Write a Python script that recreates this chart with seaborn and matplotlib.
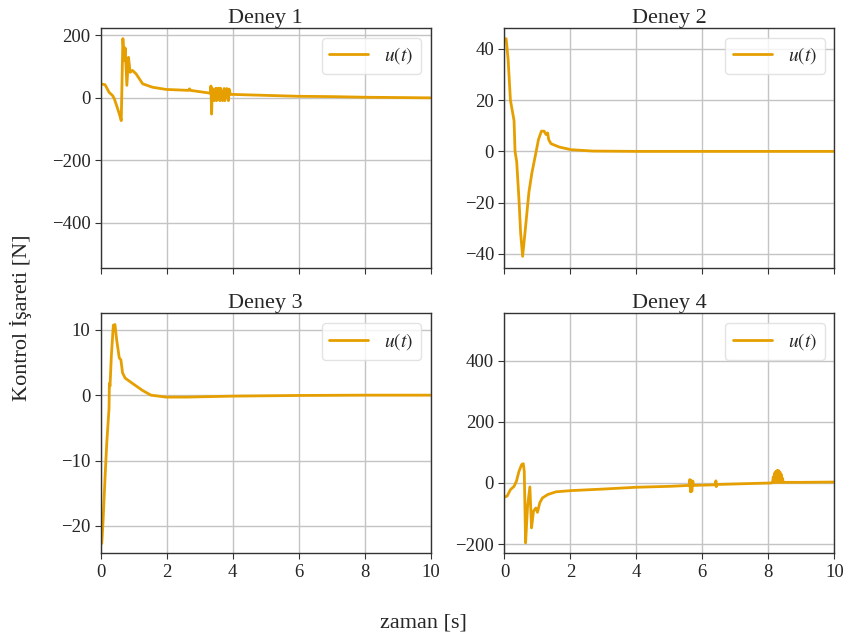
import numpy as np
import pandas as pd
import matplotlib
matplotlib.use("Agg")
import matplotlib.pyplot as plt
import seaborn as sns

# === Data (t in s, u in N)
t1 = [0.0, 0.13, 0.25, 0.36, 0.41, 0.48, 0.56, 0.62, 0.67, 0.71, 0.74, 0.79, 0.84, 0.89, 0.96,
      1.07, 1.27, 1.57, 1.98, 2.66, 2.69, 2.72, 3.32, 3.34, 3.36, 3.38, 3.44, 3.49, 3.51, 3.56,
      3.61, 3.63, 3.69, 3.74, 3.76, 3.82, 3.87, 3.89, 3.93, 4.0, 5.0, 6.0, 7.0, 8.0, 9.0, 10.0]
u1 = [45, 42, 18, 7, -3, -25, -51, -73, 190, 120, 160, 40, 130, 82, 88,
      77, 45, 34, 27, 24, 29, 24, 15, 38, -52, 30, -9, 31, -9, 31,
      -9, 31, -9, 30, -9, 30, -9, 28, 11, 11, 8, 5, 4, 2, 1, 0]

t2 = [0.0, 0.05, 0.11, 0.18, 0.29, 0.32, 0.37, 0.44, 0.49, 0.55, 0.62, 0.74, 0.83, 0.93,
      1.03, 1.12, 1.2, 1.26, 1.31, 1.34, 1.41, 1.66, 2.02, 2.68, 4.0, 6.0, 8.0, 10.0]
u2 = [44, 44, 36, 20, 12, 0, -4, -19, -32, -41, -32, -16, -8.5, -2,
      4.6, 7.9, 7.9, 6.6, 7.2, 4.6, 3.0, 1.7, 0.65, 0.13, 0.0, 0.0, 0.0, 0.0]

t3 = [0.0, 0.03, 0.07, 0.13, 0.18, 0.25, 0.26, 0.28, 0.32, 0.38, 0.43, 0.48, 0.56, 0.61,
      0.66, 0.74, 0.96, 1.27, 1.52, 1.98, 2.59, 4.0, 6.0, 8.0, 10.0]
u3 = [-22.5, -22.7, -19.2, -12.5, -7.4, -2.0, 1.8, 1.4, 6.0, 10.7, 10.8, 8.5, 5.7, 5.4,
      3.4, 2.6, 1.8, 0.7, 0.0, -0.3, -0.3, -0.15, -0.05, 0.0, 0.0]

t4 = [0.0, 0.08, 0.18, 0.29, 0.36, 0.44, 0.52, 0.57, 0.6, 0.64, 0.7, 0.77, 0.82, 0.88,
      0.95, 1.0, 1.07, 1.15, 1.31, 1.56, 2.02, 2.99, 4.01, 5.03, 5.6, 5.62, 5.64, 5.66,
      5.68, 5.71, 5.73, 6.4, 6.41, 6.42, 6.44, 8.1, 8.13, 8.15, 8.17, 8.19, 8.21, 8.23,
      8.25, 8.27, 8.29, 8.31, 8.33, 8.35, 8.37, 8.39, 8.41, 8.43, 8.45, 9.0, 10.0]
u4 = [-46, -43, -22, -11, 5, 38, 60, 63, 38, -196, -76, -13, -147, -92,
      -82, -96, -65, -49, -38, -29, -25, -20, -14, -11, -8, 11, -29, 8, -27,
      6, -8, -6, 7, -12, -5, 0, 2, 20, 2, 32, 2, 38, 2, 41, 2, 40, 2, 36, 2, 28, 2, 15, 2, 2, 3]

experiments = ["Deney 1", "Deney 2", "Deney 3", "Deney 4"]
times = [t1, t2, t3, t4]
signals = [u1, u2, u3, u4]
y_limits = [(-545, 224), (-45.5, 48.2), (-24.2, 12.5), (-230, 554)]
y_ticks = [[-400, -200, 0, 200], [-40, -20, 0, 20, 40], [-20, -10, 0, 10], [-200, 0, 200, 400]]

# === Style
sns.set_style("ticks")
plt.rcParams["font.family"] = ["Liberation Serif", "DejaVu Serif"]
plt.rcParams["mathtext.fontset"] = "stix"
plt.rcParams["axes.unicode_minus"] = True

fig, axes = plt.subplots(2, 2, figsize=(8.47, 6.36), dpi=100, sharex=True)
fig.subplots_adjust(left=0.119, right=0.985, top=0.956, bottom=0.130,
                    hspace=0.19, wspace=0.224)

for ax, naam, t, u, ylim, yt in zip(axes.flat, experiments, times, signals, y_limits, y_ticks):
    df = pd.DataFrame({"t": t, "u": u})
    sns.lineplot(data=df, x="t", y="u", ax=ax, color="#E69F00", linewidth=2,
                 label=r"$u(t)$", sort=False, estimator=None)
    ax.set_xlim(0, 10)
    ax.set_ylim(*ylim)
    ax.set_xticks([0, 2, 4, 6, 8, 10])
    ax.set_yticks(yt)
    ax.set_title(naam, fontsize=16, pad=2)
    ax.set_xlabel("")
    ax.set_ylabel("")
    ax.grid(True, color="#c4c4c4", linewidth=1.0)
    ax.tick_params(labelsize=13.5, direction="out", length=4, width=0.8, color="#333333")
    for s in ax.spines.values():
        s.set_color("#333333")
        s.set_linewidth(1.0)
    ax.legend(loc="upper right", fontsize=14, frameon=True, framealpha=0.8,
              edgecolor="#dddddd", fancybox=True)

fig.supxlabel("zaman [s]", fontsize=16, y=0.005)
fig.supylabel("Kontrol İşareti [N]", fontsize=16, x=0.012)

fig.savefig("out.png", dpi=100)
